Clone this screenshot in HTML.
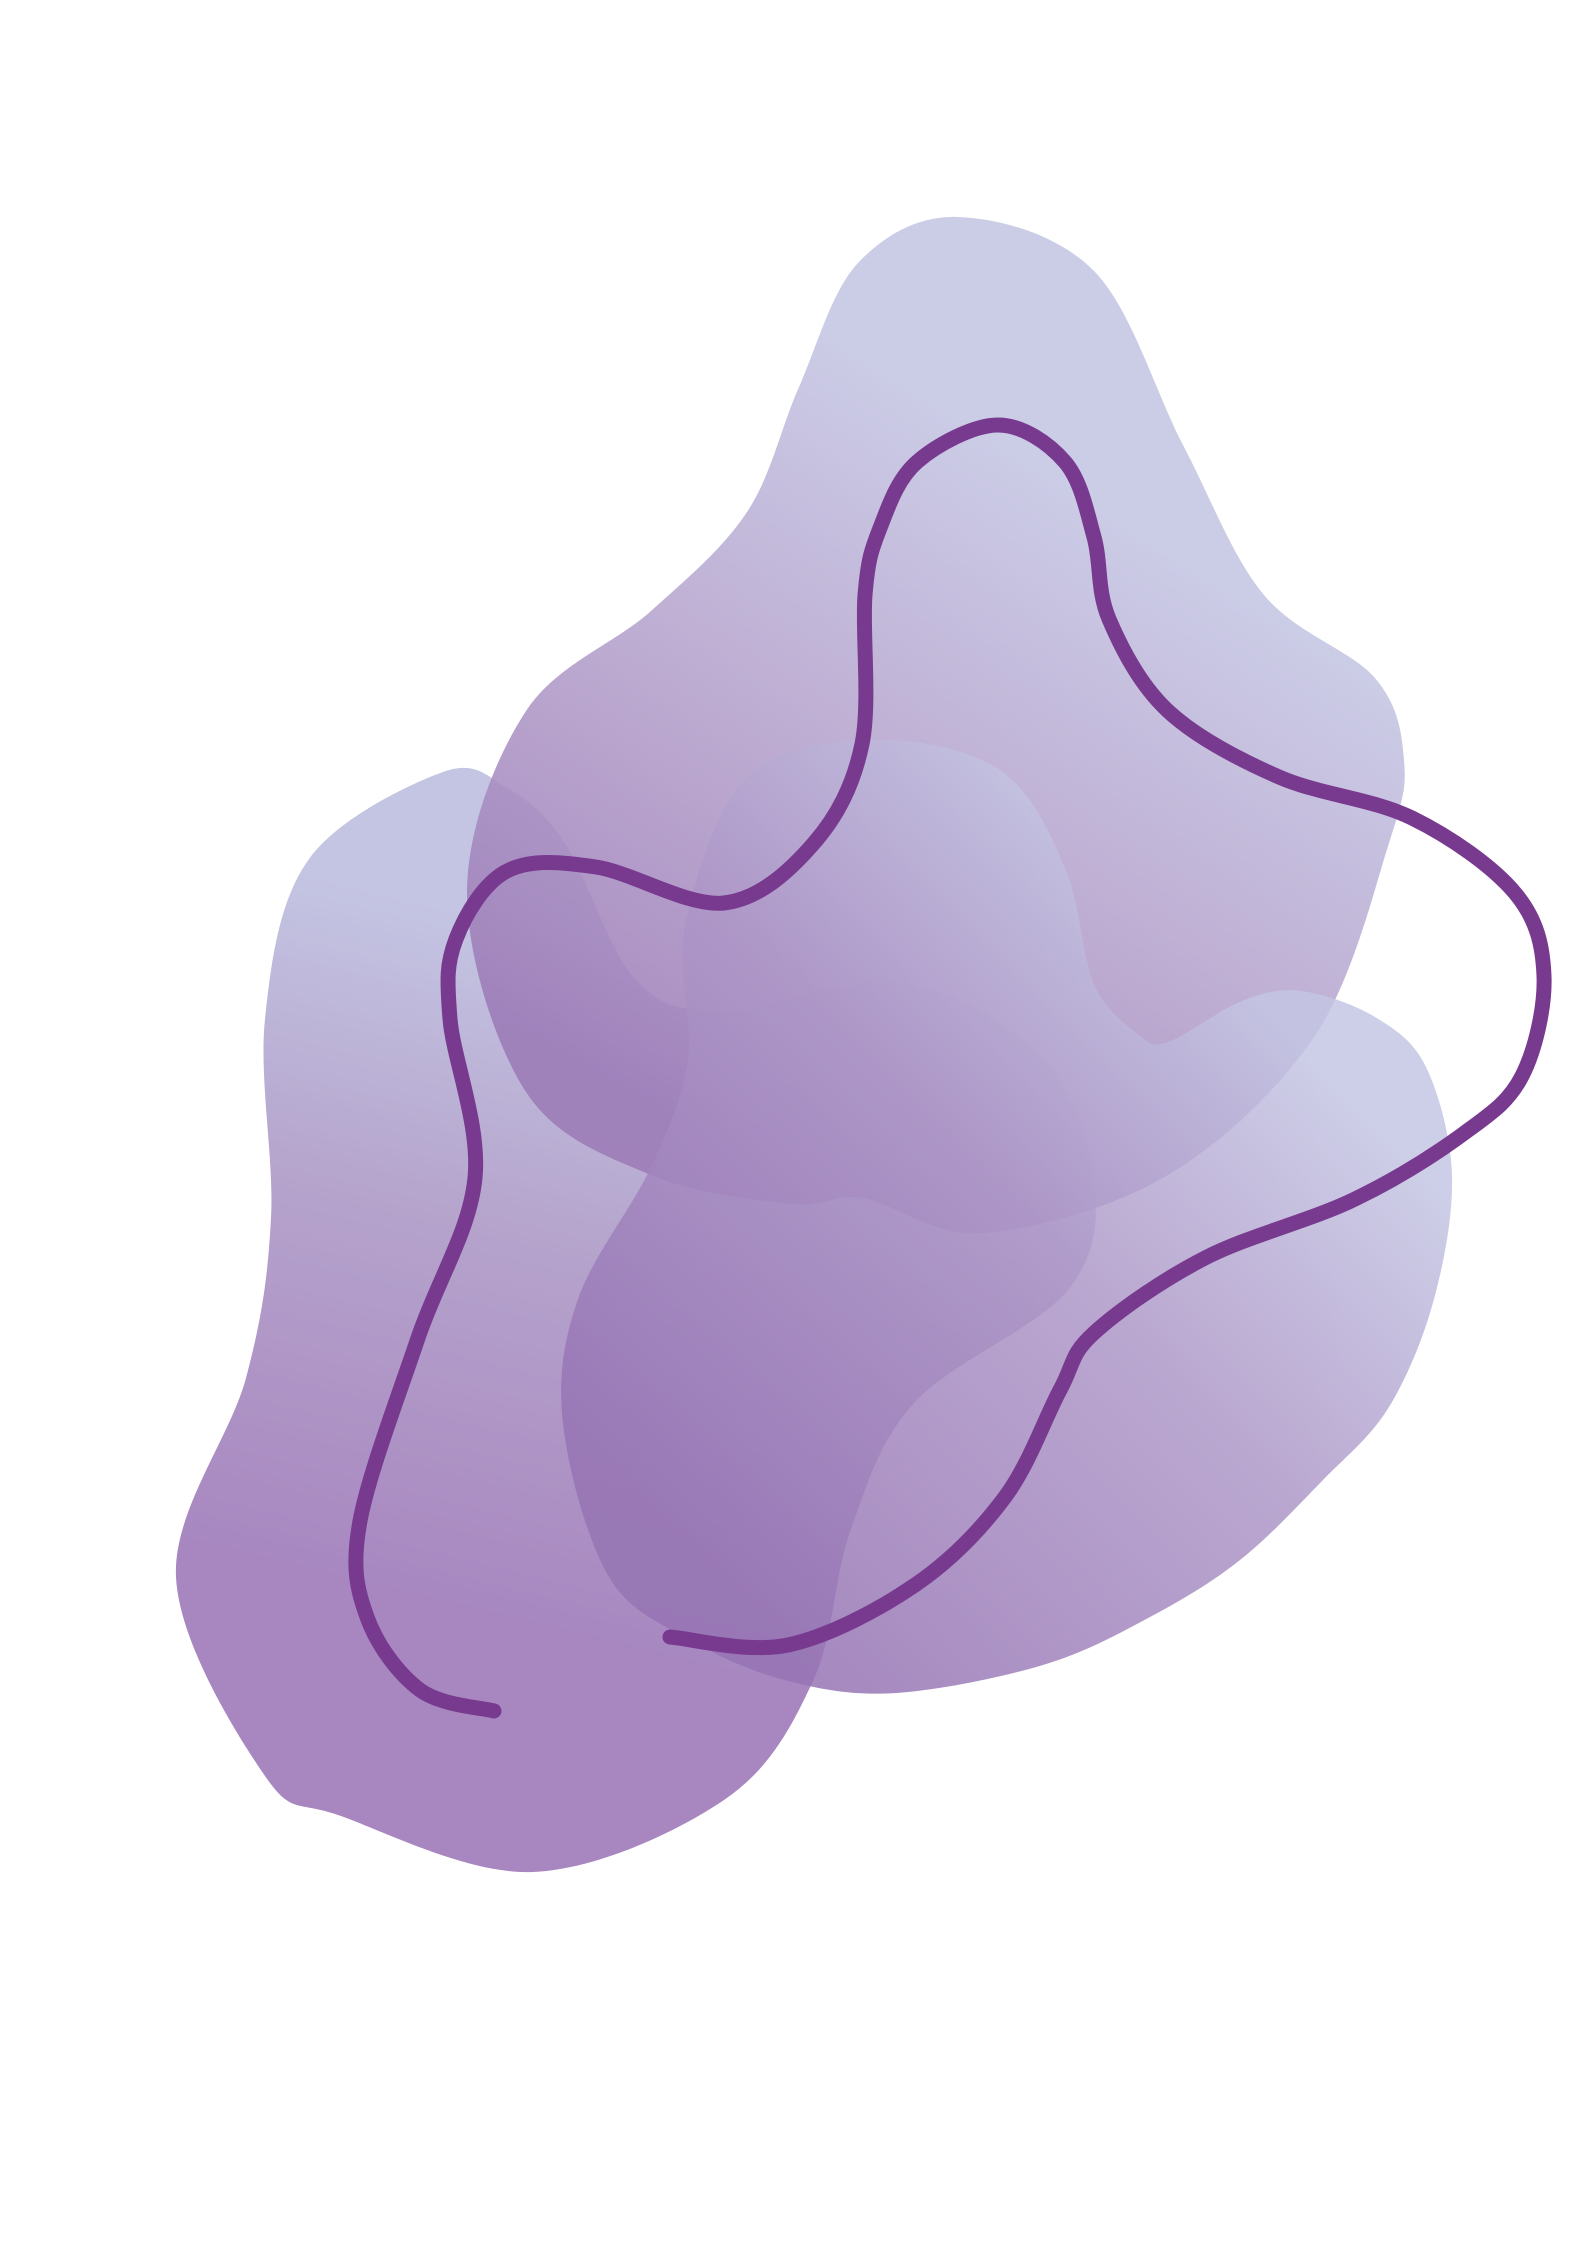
<!DOCTYPE html>
<html><head><meta charset="utf-8"><style>
html,body{margin:0;padding:0;background:#fff;width:1587px;height:2245px;overflow:hidden}
svg{display:block}
</style></head><body>
<svg id="art" width="1587" height="2245" viewBox="0 0 1587 2245" xmlns="http://www.w3.org/2000/svg">
<defs>
<linearGradient id="gTop" gradientUnits="userSpaceOnUse" x1="1120" y1="520" x2="720" y2="1150">
<stop offset="0" stop-color="#c4c5e3"/><stop offset="0.5" stop-color="#b4a0cb"/><stop offset="1" stop-color="#9c7bb7"/></linearGradient>
<linearGradient id="gLeft" gradientUnits="userSpaceOnUse" x1="420" y1="900" x2="260" y2="1560">
<stop offset="0" stop-color="#c4c5e3"/><stop offset="0.45" stop-color="#b5a3cc"/><stop offset="1" stop-color="#a887c0"/></linearGradient>
<linearGradient id="gMid" gradientUnits="userSpaceOnUse" x1="1330" y1="1080" x2="760" y2="1620">
<stop offset="0" stop-color="#c4c5e3"/><stop offset="0.4" stop-color="#ae98c8"/><stop offset="1" stop-color="#9674b4"/></linearGradient>
</defs>
<path id="blobLeft" fill="url(#gLeft)"/>
<path id="blobTop" fill="url(#gTop)" opacity="0.88"/>
<path id="blobMid" fill="url(#gMid)" opacity="0.85"/>
<path id="line" fill="none" stroke="#783a8f" stroke-width="15" stroke-linecap="round" stroke-linejoin="round"/>
</svg>
<script>
const topPts=[[958,217],[1094,271],[1183,445],[1264,595],[1375,678],[1404,760],[1389,843],[1316,1034],[1168,1175],[983,1233],[862,1198],[792,1204],[651,1175],[526,1092],[467,893],[526,711],[651,611],[747,512],[799,387],[858,263]];
const midPts=[[873,740],[1000,770],[1065,868],[1094,984],[1138,1034],[1168,1042],[1242,1001],[1301,991],[1375,1017],[1426,1067],[1452,1175],[1434,1299],[1389,1407],[1323,1480],[1240,1560],[1150,1617],[1043,1665],[896,1693],[788,1681],[692,1641],[609,1577],[563,1424],[578,1299],[651,1167],[688,1059],[685,926],[747,777]];
const leftPts=[[443,772],[507,788],[565,843],[635,979],[724,1011],[903,983],[1043,1059],[1094,1178],[1068,1290],[915,1402],[851,1529],[813,1681],[724,1800],[533,1872],[341,1816],[265,1776],[176,1577],[246,1378],[271,1218],[265,1019],[309,859]];
const linePts=[[494,1711],[420,1690],[367,1617],[360,1521],[418,1338],[475,1178],[450,1019],[456,939],[507,871],[596,867],[724,903],[814,843],[862,744],[865,595],[880,528],[917,462],[998,425],[1065,462],[1094,537],[1109,619],[1168,711],[1279,777],[1412,818],[1515,893],[1544,976],[1522,1076],[1463,1134],[1353,1200],[1205,1258],[1094,1333],[1060,1390],[1005,1497],[915,1585],[788,1645],[670,1637]];
function cr(p,closed){const n=p.length;let d='M'+p[0][0]+','+p[0][1];
 const g=i=>closed?p[(i+n)%n]:p[Math.max(0,Math.min(n-1,i))];
 const m=closed?n:n-1;
 for(let i=0;i<m;i++){const p0=g(i-1),p1=g(i),p2=g(i+1),p3=g(i+2);
  const c1=[p1[0]+(p2[0]-p0[0])/6,p1[1]+(p2[1]-p0[1])/6],c2=[p2[0]-(p3[0]-p1[0])/6,p2[1]-(p3[1]-p1[1])/6];
  d+=`C${c1[0].toFixed(1)},${c1[1].toFixed(1)} ${c2[0].toFixed(1)},${c2[1].toFixed(1)} ${p2[0]},${p2[1]}`;}
 return d+(closed?'Z':'');}
document.getElementById('blobTop').setAttribute('d',cr(topPts,true));
document.getElementById('blobMid').setAttribute('d',cr(midPts,true));
document.getElementById('blobLeft').setAttribute('d',cr(leftPts,true));
document.getElementById('line').setAttribute('d',cr(linePts,false));
</script>
</body></html>
